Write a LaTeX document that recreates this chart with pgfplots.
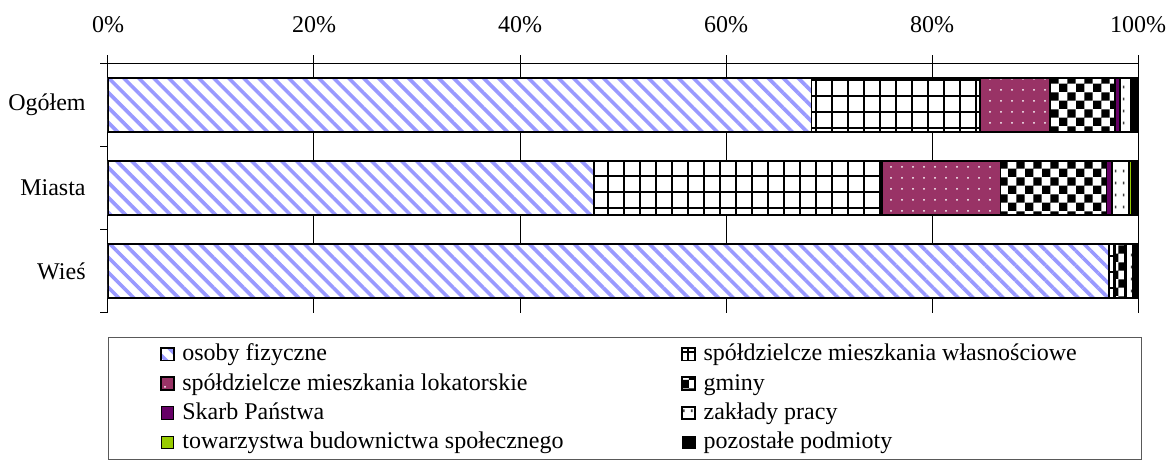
\documentclass[12pt,border=0pt]{standalone}
\usepackage{fontspec}
\setmainfont{Liberation Serif}
\usepackage{pgfplots}
\pgfplotsset{compat=1.18}
\usetikzlibrary{patterns,patterns.meta}
\definecolor{cOsoby}{RGB}{153,153,255}
\definecolor{cLok}{RGB}{153,51,102}
\definecolor{cSkarb}{RGB}{102,0,102}
\definecolor{cTbs}{RGB}{153,204,0}
\pgfdeclarepatternformonly{bigcheck}{\pgfpointorigin}{\pgfqpoint{8.4pt}{8.4pt}}{\pgfqpoint{8.4pt}{8.4pt}}{%
  \pgfpathrectangle{\pgfpointorigin}{\pgfqpoint{4.2pt}{4.2pt}}%
  \pgfpathrectangle{\pgfqpoint{4.2pt}{4.2pt}}{\pgfqpoint{4.2pt}{4.2pt}}%
  \pgfusepath{fill}}
\pgfdeclarepatternformonly{smallmarks}{\pgfpointorigin}{\pgfqpoint{4pt}{6pt}}{\pgfqpoint{4pt}{6pt}}{%
  \pgfpathrectangle{\pgfqpoint{1.5pt}{2pt}}{\pgfqpoint{0.9pt}{1.4pt}}%
  \pgfusepath{fill}}
\begin{document}
\begin{tikzpicture}
\begin{axis}[
  name=ax,
  scale only axis, width=515pt, height=125pt,
  xbar stacked, bar width=27pt,
  xmin=0, xmax=100, ymin=-0.5, ymax=2.5, y dir=reverse,
  axis x line*=top, axis y line*=left,
  axis line style={black, line width=0.5pt},
  xtick={0,20,40,60,80,100},
  xticklabel={\pgfmathprintnumber{\tick}\%},
  xticklabel style={yshift=7pt},
  ytick={-0.5,0.5,1.5,2.5}, yticklabels={},
  extra y ticks={0,1,2}, extra y tick labels={Ogółem,Miasta,Wieś},
  extra y tick style={tick style={draw=none}, yticklabel style={xshift=-3pt}},
  major tick length=4pt, tick align=outside,
  tick style={black, line width=0.5pt},
  xmajorgrids, grid style={black, line width=0.5pt},
  /pgf/number format/assume math mode=true,
  every axis plot/.append style={draw=black, line width=0.9pt},
  legend columns=2, legend cell align=left,
  legend image code/.code={\draw[#1, line width=0.6pt] (0pt,-3.15pt) rectangle (6.3pt,3.15pt);},
  legend style={at={(axis description cs:0,0)}, anchor=north west, yshift=-12pt,
    draw=gray!70!black, line width=0.6pt, inner xsep=26pt, inner ysep=1pt,
    /tikz/every even column/.append style={column sep=0pt},
    nodes={inner xsep=4pt, inner ysep=1.6pt, text height=9pt, text depth=2.5pt}},
]
\addplot[preaction={fill=white}, pattern={Lines[angle=-45, distance=5.3pt, line width=1.8pt]}, pattern color=cOsoby]
  coordinates {(68.3,0) (47.2,1) (97.2,2)};
\addlegendentry{\makebox[245.7pt][l]{osoby fizyczne}}
\addplot[preaction={fill=white}, pattern={Hatch[angle=0, distance=8pt, line width=1pt]}, pattern color=black]
  coordinates {(16.35,0) (27.95,1) (0.5,2)};
\addlegendentry{\makebox[189pt][l]{spółdzielcze mieszkania własnościowe}}
\addplot[preaction={fill=cLok}, pattern={Dots[distance=5.5pt, radius=0.5pt]}, pattern color=white]
  coordinates {(6.8,0) (11.5,1) (0.05,2)};
\addlegendentry{\makebox[245.7pt][l]{spółdzielcze mieszkania lokatorskie}}
\addplot[preaction={fill=white}, pattern=bigcheck, pattern color=black]
  coordinates {(6.3,0) (10.3,1) (1.0,2)};
\addlegendentry{\makebox[189pt][l]{gminy}}
\addplot[fill=cSkarb]
  coordinates {(0.5,0) (0.55,1) (0.05,2)};
\addlegendentry{\makebox[245.7pt][l]{Skarb Państwa}}
\addplot[preaction={fill=white}, pattern=smallmarks, pattern color=black!75]
  coordinates {(1.05,0) (1.6,1) (0.75,2)};
\addlegendentry{\makebox[189pt][l]{zakłady pracy}}
\addplot[fill=cTbs]
  coordinates {(0,0) (0.3,1) (0,2)};
\addlegendentry{\makebox[245.7pt][l]{towarzystwa budownictwa społecznego}}
\addplot[fill=black]
  coordinates {(0.7,0) (0.6,1) (0.45,2)};
\addlegendentry{\makebox[189pt][l]{pozostałe podmioty}}
\end{axis}
\pgfresetboundingbox
\path[use as bounding box] ([shift={(-54pt,-75.5pt)}]ax.south west) rectangle ([shift={(15.5pt,31.5pt)}]ax.north east);
\end{tikzpicture}
\end{document}
